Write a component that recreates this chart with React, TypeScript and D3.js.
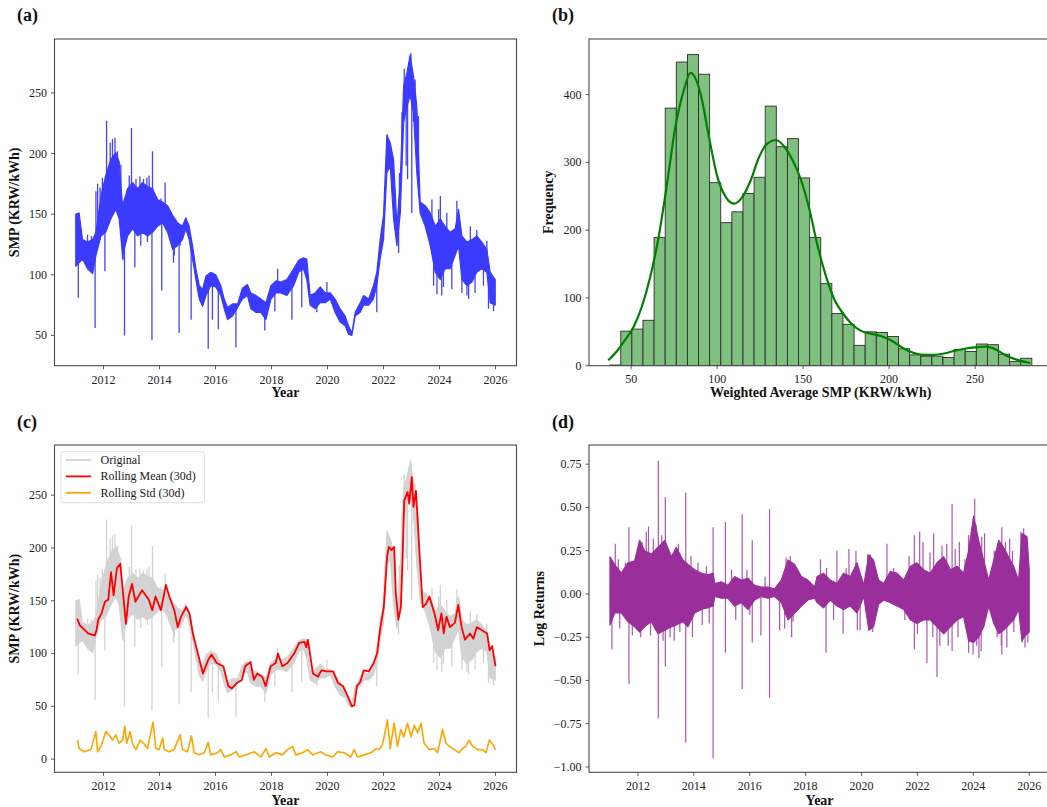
import React from 'react';
import * as d3 from 'd3';

// ---------------- DATA ----------------
const yearTicks = [2012, 2014, 2016, 2018, 2020, 2022, 2024, 2026];

// (a)/(c) daily SMP envelope (decimal year, low, high)
const smpTimes = [2011.01, 2011.13, 2011.25, 2011.43, 2011.61, 2011.73, 2011.91, 2012.08, 2012.26, 2012.44, 2012.56, 2012.68, 2012.86, 2013.04, 2013.22, 2013.39, 2013.57, 2013.75, 2013.93, 2014.11, 2014.29, 2014.47, 2014.64, 2014.82, 2014.94, 2015.06, 2015.18, 2015.30, 2015.42, 2015.54, 2015.66, 2015.83, 2016.01, 2016.19, 2016.31, 2016.43, 2016.61, 2016.79, 2016.96, 2017.14, 2017.26, 2017.44, 2017.62, 2017.80, 2017.98, 2018.16, 2018.33, 2018.55, 2018.79, 2018.97, 2019.14, 2019.26, 2019.38, 2019.56, 2019.74, 2019.92, 2020.10, 2020.27, 2020.45, 2020.63, 2020.75, 2020.87, 2020.99, 2021.17, 2021.29, 2021.47, 2021.64, 2021.76, 2021.88, 2022.00, 2022.12, 2022.24, 2022.36, 2022.48, 2022.60, 2022.72, 2022.84, 2022.95, 2023.07, 2023.19, 2023.31, 2023.49, 2023.67, 2023.85, 2024.03, 2024.20, 2024.38, 2024.56, 2024.68, 2024.80, 2024.98, 2025.16, 2025.33, 2025.51, 2025.69, 2025.81, 2025.99];
const smpHigh = [150, 151, 129, 127, 129, 135, 165, 182, 195, 201, 193, 157, 171, 176, 171, 176, 173, 171, 162, 160, 157, 149, 143, 140, 147, 140, 124, 105, 91, 88, 99, 102, 100, 91, 80, 73, 76, 76, 89, 92, 85, 83, 80, 77, 91, 95, 94, 96, 105, 112, 114, 113, 83, 85, 90, 85, 85, 80, 72, 66, 58, 52, 69, 77, 83, 80, 91, 102, 129, 149, 215, 209, 195, 140, 179, 256, 267, 281, 264, 239, 160, 157, 151, 140, 146, 140, 135, 138, 154, 132, 127, 129, 132, 127, 121, 102, 96];
const smpLow = [107, 110, 113, 105, 101, 116, 132, 135, 146, 154, 146, 116, 132, 138, 132, 135, 132, 135, 140, 143, 135, 121, 124, 129, 138, 129, 113, 96, 80, 74, 83, 91, 90, 83, 72, 63, 66, 73, 80, 83, 72, 69, 69, 63, 80, 85, 85, 83, 91, 102, 105, 96, 75, 72, 77, 77, 80, 69, 61, 58, 51, 50, 66, 69, 75, 75, 80, 91, 113, 129, 184, 190, 146, 124, 151, 226, 239, 248, 234, 184, 151, 140, 124, 102, 96, 105, 105, 116, 124, 96, 91, 94, 102, 105, 102, 77, 75];
// isolated daily spikes
const smpSpikeTimes = [2011.10, 2011.70, 2011.73, 2012.05, 2012.11, 2012.24, 2012.41, 2012.50, 2012.70, 2012.75, 2013.00, 2013.12, 2013.30, 2013.55, 2013.73, 2013.75, 2014.08, 2014.20, 2014.50, 2014.70, 2015.13, 2015.74, 2015.89, 2016.10, 2016.73, 2017.76, 2018.12, 2018.22, 2018.73, 2019.08, 2019.62, 2019.98, 2021.76, 2022.54, 2022.86, 2023.01, 2023.91, 2024.03, 2024.08, 2024.62, 2025.04, 2025.75, 2025.93,
  2011.43, 2011.57, 2011.79, 2011.88, 2011.96, 2012.32, 2012.45, 2012.62, 2012.68, 2012.80, 2012.92, 2013.16, 2013.33, 2013.43, 2013.57, 2013.63, 2013.87, 2014.05, 2014.41, 2014.53, 2014.74,
  2022.14, 2022.42, 2022.57, 2022.66, 2022.74, 2022.81, 2022.98, 2023.07, 2023.13, 2023.25, 2023.73, 2023.79, 2023.97, 2024.14, 2024.26, 2024.44, 2024.80, 2024.98, 2025.10, 2025.27, 2025.33, 2025.57, 2025.69];
const smpSpikeValues = [81, 56, 169, 103, 227, 209, 213, 202, 112, 50, 221, 106, 181, 180, 46, 202, 87, 176, 110, 52, 63, 39, 63, 55, 40, 54, 70, 105, 63, 73, 69, 94, 69, 118, 179, 151, 84, 165, 83, 161, 80, 72, 70,
  133, 132, 175, 172, 180, 212, 195, 191, 113, 127, 182, 179, 124, 179, 127, 182, 160, 163, 151, 116, 124,
  216, 140, 184, 234, 270, 190, 283, 226, 261, 231, 162, 91, 154, 90, 151, 88, 85, 83, 140, 85, 137, 91, 128];

// (c) rolling mean (30d)
const rollTimes = [2011.06, 2011.15, 2011.45, 2011.69, 2011.75, 2011.81, 2011.93, 2012.05, 2012.17, 2012.27, 2012.36, 2012.48, 2012.60, 2012.72, 2012.80, 2012.90, 2013.02, 2013.14, 2013.38, 2013.62, 2013.74, 2013.86, 2014.05, 2014.23, 2014.35, 2014.53, 2014.65, 2014.77, 2014.95, 2015.07, 2015.19, 2015.37, 2015.55, 2015.74, 2015.86, 2016.04, 2016.28, 2016.46, 2016.58, 2016.76, 2016.94, 2017.06, 2017.25, 2017.37, 2017.49, 2017.67, 2017.79, 2017.97, 2018.15, 2018.23, 2018.39, 2018.57, 2018.81, 2018.99, 2019.18, 2019.24, 2019.30, 2019.48, 2019.66, 2019.78, 2019.96, 2020.20, 2020.38, 2020.56, 2020.75, 2020.87, 2020.96, 2021.05, 2021.17, 2021.29, 2021.47, 2021.65, 2021.77, 2021.89, 2022.01, 2022.13, 2022.19, 2022.29, 2022.38, 2022.44, 2022.53, 2022.62, 2022.68, 2022.74, 2022.86, 2022.92, 2023.01, 2023.07, 2023.16, 2023.28, 2023.40, 2023.52, 2023.64, 2023.82, 2023.95, 2024.07, 2024.15, 2024.25, 2024.37, 2024.55, 2024.67, 2024.79, 2024.91, 2025.09, 2025.21, 2025.33, 2025.52, 2025.70, 2025.79, 2025.88, 2026.00];
const rollMean = [133, 127, 119, 117, 122, 132, 138, 149, 151, 177, 155, 181, 185, 151, 128, 154, 166, 149, 160, 151, 141, 154, 141, 165, 154, 141, 125, 135, 144, 138, 119, 100, 81, 94, 99, 91, 88, 69, 67, 72, 75, 88, 92, 75, 81, 78, 69, 88, 91, 100, 88, 91, 100, 110, 111, 106, 113, 81, 78, 84, 83, 83, 72, 69, 58, 50, 51, 69, 73, 84, 83, 91, 100, 125, 144, 192, 201, 198, 201, 157, 132, 144, 188, 245, 253, 242, 267, 239, 254, 198, 144, 147, 154, 138, 122, 138, 119, 135, 125, 129, 146, 125, 113, 119, 114, 125, 122, 119, 103, 107, 88];

// (c) rolling std (30d)
const stdTimes = [2011.07, 2011.13, 2011.31, 2011.55, 2011.73, 2011.79, 2011.91, 2012.08, 2012.20, 2012.32, 2012.44, 2012.56, 2012.68, 2012.76, 2012.83, 2012.95, 2013.04, 2013.16, 2013.31, 2013.43, 2013.57, 2013.77, 2013.87, 2013.99, 2014.11, 2014.17, 2014.35, 2014.52, 2014.74, 2014.82, 2015.00, 2015.14, 2015.24, 2015.42, 2015.60, 2015.74, 2015.83, 2016.07, 2016.19, 2016.31, 2016.55, 2016.73, 2016.85, 2017.08, 2017.38, 2017.62, 2017.80, 2017.92, 2018.16, 2018.39, 2018.57, 2018.75, 2018.87, 2019.11, 2019.29, 2019.47, 2019.76, 2019.94, 2020.18, 2020.36, 2020.60, 2020.83, 2020.95, 2021.07, 2021.31, 2021.55, 2021.73, 2021.85, 2021.97, 2022.14, 2022.24, 2022.38, 2022.50, 2022.62, 2022.72, 2022.86, 2022.98, 2023.10, 2023.22, 2023.34, 2023.45, 2023.63, 2023.81, 2023.93, 2024.11, 2024.23, 2024.35, 2024.53, 2024.70, 2024.82, 2024.94, 2025.06, 2025.18, 2025.36, 2025.54, 2025.66, 2025.78, 2025.90, 2026.00];
const stdValues = [18, 10, 7, 9, 26, 7, 12, 26, 23, 18, 23, 15, 18, 31, 15, 26, 14, 9, 18, 15, 10, 35, 10, 9, 20, 9, 7, 9, 23, 9, 7, 22, 6, 4, 6, 16, 4, 6, 9, 2, 4, 7, 2, 4, 7, 2, 10, 2, 6, 4, 9, 12, 4, 6, 9, 4, 7, 4, 2, 7, 6, 2, 9, 2, 4, 6, 10, 9, 14, 37, 10, 34, 12, 28, 21, 34, 21, 32, 25, 34, 15, 9, 10, 6, 28, 15, 12, 9, 6, 10, 12, 18, 12, 9, 9, 6, 18, 14, 9];

// (b) histogram
const histMin = 37.5;
const histMax = 283;
const histCounts = [1, 51, 54, 67, 189, 380, 448, 459, 430, 270, 211, 227, 254, 278, 383, 323, 335, 277, 189, 121, 77, 61, 30, 50, 49, 43, 25, 16, 14, 14, 12, 24, 21, 32, 31, 17, 6, 11];
const kdeX = [36.7, 41.6, 46.5, 51.4, 56.2, 61.1, 66.0, 70.9, 75.7, 80.6, 84.5, 90.3, 95.2, 100.1, 105.0, 109.8, 114.7, 119.6, 124.4, 129.3, 134.2, 139.1, 143.9, 148.8, 153.7, 158.6, 163.4, 168.3, 173.2, 178.1, 184.0, 190.0, 196.0, 202.0, 208.0, 214.0, 220.0, 226.0, 232.0, 238.0, 244.0, 250.0, 256.0, 262.0, 268.0, 274.0, 282.0];
const kdeY = [8, 21, 38, 57, 87, 131, 190, 269, 352, 406, 432, 402, 338, 279, 249, 239, 249, 274, 308, 328, 333, 323, 303, 274, 230, 175, 131, 97, 77, 62, 51, 47, 43, 36, 26, 19, 16, 16, 18, 22, 25, 27, 28, 24, 15, 9, 4];
const histXTicks = [50, 100, 150, 200, 250];
const histYTicks = [0, 100, 200, 300, 400];

// (d) log returns envelope
const retTimes = [2011.00, 2011.17, 2011.41, 2011.64, 2011.88, 2012.06, 2012.24, 2012.48, 2012.72, 2012.96, 2013.20, 2013.37, 2013.61, 2013.79, 2014.03, 2014.27, 2014.51, 2014.69, 2014.75, 2014.98, 2015.22, 2015.46, 2015.70, 2015.94, 2016.18, 2016.41, 2016.65, 2016.89, 2017.13, 2017.37, 2017.61, 2017.85, 2018.08, 2018.32, 2018.41, 2018.64, 2018.88, 2019.12, 2019.36, 2019.60, 2019.84, 2020.08, 2020.26, 2020.43, 2020.61, 2020.79, 2021.03, 2021.27, 2021.51, 2021.75, 2021.98, 2022.22, 2022.46, 2022.70, 2022.94, 2023.18, 2023.42, 2023.65, 2023.83, 2024.01, 2024.19, 2024.37, 2024.55, 2024.73, 2024.91, 2025.08, 2025.26, 2025.44, 2025.62, 2025.74, 2025.92, 2026.00];
const retHigh = [0.215, 0.17, 0.12, 0.18, 0.19, 0.31, 0.25, 0.23, 0.27, 0.31, 0.215, 0.27, 0.196, 0.17, 0.14, 0.12, 0.11, 0.12, 0.06, 0.07, 0.05, 0.10, 0.08, 0.09, 0.05, 0.04, 0.04, 0.03, 0.08, 0.196, 0.17, 0.10, 0.08, 0.04, 0.10, 0.12, 0.08, 0.06, 0.12, 0.10, 0.18, 0.05, 0.225, 0.196, 0.08, 0.06, 0.13, 0.12, 0.08, 0.16, 0.18, 0.14, 0.12, 0.18, 0.215, 0.14, 0.16, 0.12, 0.25, 0.45, 0.31, 0.196, 0.08, 0.196, 0.31, 0.27, 0.215, 0.16, 0.08, 0.35, 0.33, 0.14];
const retLow = [-0.18, -0.11, -0.11, -0.16, -0.19, -0.22, -0.19, -0.16, -0.23, -0.21, -0.19, -0.18, -0.16, -0.19, -0.11, -0.09, -0.08, -0.07, -0.015, -0.025, -0.025, -0.07, -0.05, -0.09, -0.035, -0.015, -0.025, -0.015, -0.05, -0.15, -0.11, -0.07, -0.035, -0.025, -0.05, -0.08, -0.035, -0.07, -0.09, -0.07, -0.11, -0.015, -0.21, -0.19, -0.06, -0.035, -0.05, -0.07, -0.09, -0.15, -0.17, -0.15, -0.15, -0.19, -0.23, -0.19, -0.15, -0.13, -0.27, -0.28, -0.25, -0.19, -0.07, -0.17, -0.23, -0.21, -0.18, -0.15, -0.09, -0.27, -0.23, -0.22];
const retSpikeTimes = [2011.07, 2011.19, 2011.68, 2011.68, 2012.30, 2012.38, 2012.73, 2012.73, 2012.98, 2012.98, 2013.15, 2013.71, 2013.71, 2014.69, 2014.69, 2015.13, 2015.13, 2015.73, 2015.73, 2016.09, 2016.09, 2016.40, 2016.71, 2016.71, 2017.07, 2017.30, 2017.50, 2018.53, 2018.73, 2019.12, 2019.34, 2019.55, 2019.80, 2019.85, 2020.31, 2020.91, 2021.89, 2021.89, 2022.08, 2022.34, 2022.58, 2022.70, 2022.88, 2023.24, 2023.24, 2023.50, 2023.83, 2023.83, 2023.99, 2024.05, 2024.20, 2024.40, 2025.02, 2025.02, 2025.30, 2025.80, 2025.85,
  2011.30, 2011.35, 2011.55, 2011.80, 2011.95, 2012.10, 2012.15, 2012.45, 2012.55, 2012.62, 2012.85, 2012.90, 2013.10, 2013.30, 2013.45, 2013.50, 2013.90, 2013.95, 2014.15, 2014.30, 2014.45, 2014.55, 2015.35, 2015.50, 2015.90, 2016.00, 2016.55, 2017.25, 2017.45, 2017.55, 2018.75, 2019.00, 2019.45, 2019.95, 2020.22, 2020.40, 2021.15, 2021.55, 2021.70, 2022.00, 2022.20, 2022.45, 2022.55, 2022.80, 2023.05, 2023.10, 2023.35, 2023.45, 2023.70, 2024.10, 2024.12, 2024.30, 2024.28, 2024.75, 2024.85, 2025.00, 2025.15, 2025.20, 2025.40, 2025.45, 2025.70, 2025.75, 2025.95];
const retSpikeValues = [-0.32, 0.29, 0.385, -0.52, 0.36, 0.39, 0.77, -0.72, 0.56, -0.42, -0.25, 0.587, -0.86, 0.385, -0.95, 0.415, -0.34, 0.46, -0.55, 0.31, -0.28, -0.24, 0.49, -0.60, -0.21, 0.21, -0.25, 0.20, -0.34, 0.25, -0.23, 0.26, 0.25, -0.21, 0.23, 0.29, 0.34, -0.32, 0.36, -0.40, 0.35, -0.48, 0.28, 0.52, -0.33, 0.30, 0.34, -0.34, -0.35, 0.55, -0.37, 0.35, 0.385, -0.35, 0.32, 0.38, -0.31,
  0.20, -0.20, 0.18, -0.24, 0.22, -0.25, 0.30, -0.24, 0.32, -0.21, 0.34, -0.27, 0.25, -0.27, 0.29, -0.22, 0.22, -0.25, 0.18, -0.18, 0.16, -0.17, 0.14, -0.15, 0.14, -0.12, 0.10, -0.20, 0.22, -0.16, 0.15, -0.15, 0.15, -0.21, 0.23, -0.22, 0.15, -0.15, 0.22, -0.23, 0.30, 0.24, -0.25, -0.30, 0.29, -0.30, 0.26, -0.25, 0.20, 0.40, -0.30, 0.33, -0.33, 0.25, -0.25, -0.30, 0.30, -0.31, 0.25, -0.22, 0.36, -0.28, -0.28];
const retYTicks = [-1.0, -0.75, -0.5, -0.25, 0, 0.25, 0.5, 0.75];

const smpYTicksA = [50, 100, 150, 200, 250];
const smpYTicksC = [0, 50, 100, 150, 200, 250];

// ---------------- STYLE ----------------
const FONT = "'Liberation Serif', 'Times New Roman', Times, serif";
const W = 1047;
const H = 807;

type Box = { l: number; r: number; t: number; b: number };
const boxA: Box = { l: 54.5, r: 516.5, t: 39, b: 365.7 };
const boxB: Box = { l: 589, r: 1052.5, t: 39, b: 365.7 };
const boxC: Box = { l: 54.5, r: 516.5, t: 445, b: 772.3 };
const boxD: Box = { l: 589, r: 1050.2, t: 445, b: 772.3 };

const fmtMinus = (s: string) => s.replace('-', '\u2212');

function Frame({ box, xScale, yScale, xTicks, yTicks, xFmt, yFmt, xBase, xLabel, xLabelBase, yLabel, yLabelX, letter, letterX, letterBase }: any) {
  return (
    <g>
      <rect x={box.l} y={box.t} width={box.r - box.l} height={box.b - box.t} fill="none" stroke="#4a4a4a" strokeWidth={1.1} />
      {xTicks.map((t: number) => (
        <g key={'x' + t}>
          <line x1={xScale(t)} x2={xScale(t)} y1={box.b} y2={box.b + 3.5} stroke="#333" strokeWidth={0.8} />
          <text x={xScale(t)} y={xBase} textAnchor="middle" fontSize={12} fontFamily={FONT} fill="#222">{xFmt(t)}</text>
        </g>
      ))}
      {yTicks.map((t: number) => (
        <g key={'y' + t}>
          <line x1={box.l - 3.5} x2={box.l} y1={yScale(t)} y2={yScale(t)} stroke="#333" strokeWidth={0.8} />
          <text x={box.l - 7.5} y={yScale(t)} dy="0.33em" textAnchor="end" fontSize={12} fontFamily={FONT} fill="#222">{yFmt(t)}</text>
        </g>
      ))}
      <text x={(box.l + box.r) / 2} y={xLabelBase} textAnchor="middle" fontSize={14} fontWeight="bold" fontFamily={FONT} fill="#111">{xLabel}</text>
      <text transform={`translate(${yLabelX},${(box.t + box.b) / 2}) rotate(-90)`} textAnchor="middle" dominantBaseline="central" fontSize={14} fontWeight="bold" fontFamily={FONT} fill="#111">{yLabel}</text>
      <text x={letterX} y={letterBase} fontSize={18} fontWeight="bold" fontFamily={FONT} fill="#111">{letter}</text>
    </g>
  );
}

export default function App() {
  const xA = d3.scaleLinear().domain([2010.25, 2026.75]).range([boxA.l, boxA.r]);
  const yA = d3.scaleLinear().domain([25, 294.5]).range([boxA.b, boxA.t]);
  const xB = d3.scaleLinear().domain([25.5, 295]).range([boxB.l, boxB.r]);
  const yB = d3.scaleLinear().domain([0, 482]).range([boxB.b, boxB.t]);
  const xC = d3.scaleLinear().domain([2010.25, 2026.75]).range([boxC.l, boxC.r]);
  const yC = d3.scaleLinear().domain([-12.5, 297.5]).range([boxC.b, boxC.t]);
  const xD = d3.scaleLinear().domain([2010.25, 2026.75]).range([boxD.l, boxD.r]);
  const yD = d3.scaleLinear().domain([-1.031, 0.861]).range([boxD.b, boxD.t]);

  const n = Math.min(smpTimes.length, smpHigh.length, smpLow.length);
  const smpIdx = d3.range(n);
  const smpMid = d3.scaleLinear().domain(smpTimes.slice(0, n)).range(smpIdx.map((i) => (smpHigh[i] + smpLow[i]) / 2)).clamp(true);

  const bandA = d3.area<number>().x((i) => xA(smpTimes[i])).y0((i) => yA(smpLow[i])).y1((i) => yA(smpHigh[i]))(smpIdx) || '';
  const bandC = d3.area<number>().x((i) => xC(smpTimes[i])).y0((i) => yC(smpLow[i])).y1((i) => yC(smpHigh[i]))(smpIdx) || '';

  const meanPath = d3.line<number>().x((i) => xC(rollTimes[i])).y((i) => yC(rollMean[i]))(d3.range(Math.min(rollTimes.length, rollMean.length))) || '';
  const stdPath = d3.line<number>().x((i) => xC(stdTimes[i])).y((i) => yC(stdValues[i]))(d3.range(Math.min(stdTimes.length, stdValues.length))) || '';

  const binW = (histMax - histMin) / histCounts.length;
  const kdePath = d3.line<number>().x((i) => xB(kdeX[i])).y((i) => yB(kdeY[i])).curve(d3.curveMonotoneX)(d3.range(Math.min(kdeX.length, kdeY.length))) || '';

  const m = Math.min(retTimes.length, retHigh.length, retLow.length);
  const bandD = d3.area<number>().x((i) => xD(retTimes[i])).y0((i) => yD(retLow[i])).y1((i) => yD(retHigh[i]))(d3.range(m)) || '';

  const ns = Math.min(smpSpikeTimes.length, smpSpikeValues.length);
  const nr = Math.min(retSpikeTimes.length, retSpikeValues.length);
  const yearFmt = (t: number) => String(t);

  return (
    <svg width={W} height={H} style={{ position: 'absolute', left: 0, top: 0, background: '#fff' }} xmlns="http://www.w3.org/2000/svg">
      <defs>
        {[['ca', boxA], ['cb', boxB], ['cc', boxC], ['cd', boxD]].map(([id, b]: any) => (
          <clipPath id={id} key={id}>
            <rect x={b.l} y={b.t} width={b.r - b.l} height={b.b - b.t} />
          </clipPath>
        ))}
      </defs>
      <rect x={0} y={0} width={W} height={H} fill="#fff" />

      {/* (a) */}
      <g clipPath="url(#ca)">
        {d3.range(ns).map((i) => (
          <line key={i} x1={xA(smpSpikeTimes[i])} x2={xA(smpSpikeTimes[i])} y1={yA(smpMid(smpSpikeTimes[i]))} y2={yA(smpSpikeValues[i])} stroke="#4444ff" strokeWidth={1.3} />
        ))}
        <path d={bandA} fill="#3b3bff" stroke="#3b3bff" strokeWidth={1.2} strokeLinejoin="round" />
      </g>
      <Frame box={boxA} xScale={xA} yScale={yA} xTicks={yearTicks} yTicks={smpYTicksA} xFmt={yearFmt} yFmt={(v: number) => String(v)}
        xBase={383.5} xLabel="Year" xLabelBase={397} yLabel="SMP (KRW/kWh)" yLabelX={14.5} letter="(a)" letterX={17} letterBase={20.5} />

      {/* (b) */}
      <g clipPath="url(#cb)">
        {histCounts.map((c, i) => (
          <rect key={i} x={xB(histMin + i * binW)} y={yB(c)} width={xB(histMin + (i + 1) * binW) - xB(histMin + i * binW)} height={yB(0) - yB(c)}
            fill="#7fbf7f" stroke="#2e2e2e" strokeWidth={0.9} />
        ))}
        <path d={kdePath} fill="none" stroke="#008000" strokeWidth={2.2} />
      </g>
      <Frame box={boxB} xScale={xB} yScale={yB} xTicks={histXTicks} yTicks={histYTicks} xFmt={(v: number) => String(v)} yFmt={(v: number) => String(v)}
        xBase={383} xLabel="Weighted Average SMP (KRW/kWh)" xLabelBase={397} yLabel="Frequency" yLabelX={548} letter="(b)" letterX={552} letterBase={20.5} />

      {/* (c) */}
      <g clipPath="url(#cc)">
        {d3.range(ns).map((i) => (
          <line key={i} x1={xC(smpSpikeTimes[i])} x2={xC(smpSpikeTimes[i])} y1={yC(smpMid(smpSpikeTimes[i]))} y2={yC(smpSpikeValues[i])} stroke="#d3d3d3" strokeWidth={1.3} />
        ))}
        <path d={bandC} fill="#d3d3d3" stroke="#d3d3d3" strokeWidth={1.2} strokeLinejoin="round" />
        <path d={meanPath} fill="none" stroke="#ff0000" strokeWidth={1.8} strokeLinejoin="round" />
        <path d={stdPath} fill="none" stroke="#ffa500" strokeWidth={1.6} strokeLinejoin="round" />
      </g>
      <g>
        <rect x={61} y={451.7} width={143.5} height={51} rx={2.5} fill="#fff" fillOpacity={0.85} stroke="#d5d5d5" strokeWidth={0.8} />
        {[['Original', '#d3d3d3'], ['Rolling Mean (30d)', '#ff0000'], ['Rolling Std (30d)', '#ffa500']].map(([lab, col], i) => (
          <g key={lab}>
            <line x1={66} x2={91} y1={460 + i * 16.4} y2={460 + i * 16.4} stroke={col} strokeWidth={1.8} />
            <text x={100.5} y={460 + i * 16.4} dy="0.33em" fontSize={12} fontFamily={FONT} fill="#222">{lab}</text>
          </g>
        ))}
      </g>
      <Frame box={boxC} xScale={xC} yScale={yC} xTicks={yearTicks} yTicks={smpYTicksC} xFmt={yearFmt} yFmt={(v: number) => String(v)}
        xBase={790} xLabel="Year" xLabelBase={804.5} yLabel="SMP (KRW/kWh)" yLabelX={14.7} letter="(c)" letterX={17} letterBase={427.5} />

      {/* (d) */}
      <g clipPath="url(#cd)">
        {d3.range(nr).map((i) => (
          <line key={i} x1={xD(retSpikeTimes[i])} x2={xD(retSpikeTimes[i])} y1={yD(0)} y2={yD(retSpikeValues[i])} stroke="#ad55b1" strokeWidth={1.2} />
        ))}
        <path d={bandD} fill="#9a2f9c" stroke="#9a2f9c" strokeWidth={1.2} strokeLinejoin="round" />
      </g>
      <Frame box={boxD} xScale={xD} yScale={yD} xTicks={yearTicks} yTicks={retYTicks} xFmt={yearFmt} yFmt={(v: number) => fmtMinus(v.toFixed(2))}
        xBase={790} xLabel="Year" xLabelBase={804.5} yLabel="Log Returns" yLabelX={539} letter="(d)" letterX={552} letterBase={427.5} />
    </svg>
  );
}
